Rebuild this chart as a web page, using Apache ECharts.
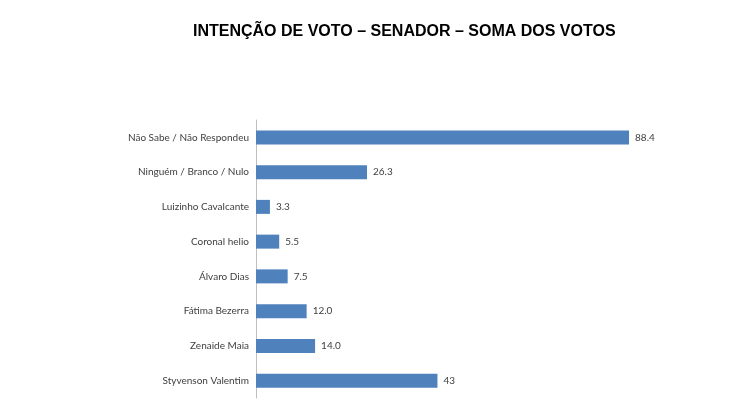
<!DOCTYPE html>
<html>
<head>
<meta charset="utf-8">
<script src="https://cdn.jsdelivr.net/npm/echarts@6/dist/echarts.min.js"></script>
<style>html,body{margin:0;padding:0;background:#fff}#c{width:750px;height:416px}</style>
</head>
<body>
<div id="c"></div>
<script>
const categories = ["Não Sabe / Não Respondeu", "Ninguém / Branco / Nulo", "Luizinho Cavalcante", "Coronal helio", "Álvaro Dias", "Fátima Bezerra", "Zenaide Maia", "Styvenson Valentim"];
const values = [88.4, 26.3, 3.3, 5.5, 7.5, 12.0, 14.0, 43];
const valueLabels = ["88.4", "26.3", "3.3", "5.5", "7.5", "12.0", "14.0", "43"];
const titleText = "INTENÇÃO DE VOTO – SENADOR – SOMA DOS VOTOS";

const labelFont = 'Lato, sans-serif';
const chart = echarts.init(document.getElementById('c'));
chart.setOption({
  animation: false,
  backgroundColor: '#fff',
  title: {
    text: titleText,
    left: 188, top: 19,
    textStyle: { fontFamily: 'Liberation Sans, Arial', fontWeight: 'bold', fontSize: 16, color: '#000' }
  },
  grid: { left: 256, right: 72, top: 120, bottom: 18, containLabel: false },
  xAxis: {
    type: 'value', min: 0, max: 100,
    show: false
  },
  yAxis: {
    type: 'category', data: categories, inverse: true,
    axisLine: { show: true, lineStyle: { color: '#bfbfbf', width: 1 } },
    axisTick: { show: false },
    axisLabel: { color: '#404040', fontFamily: labelFont, fontSize: 10, margin: 7 }
  },
  series: [{
    type: 'bar', data: values, barWidth: 14,
    itemStyle: { color: '#4f81bd' },
    label: {
      show: true, position: 'right', distance: 6,
      color: '#404040', fontFamily: labelFont, fontSize: 10,
      formatter: p => valueLabels[p.dataIndex]
    }
  }]
});
</script>
</body>
</html>
